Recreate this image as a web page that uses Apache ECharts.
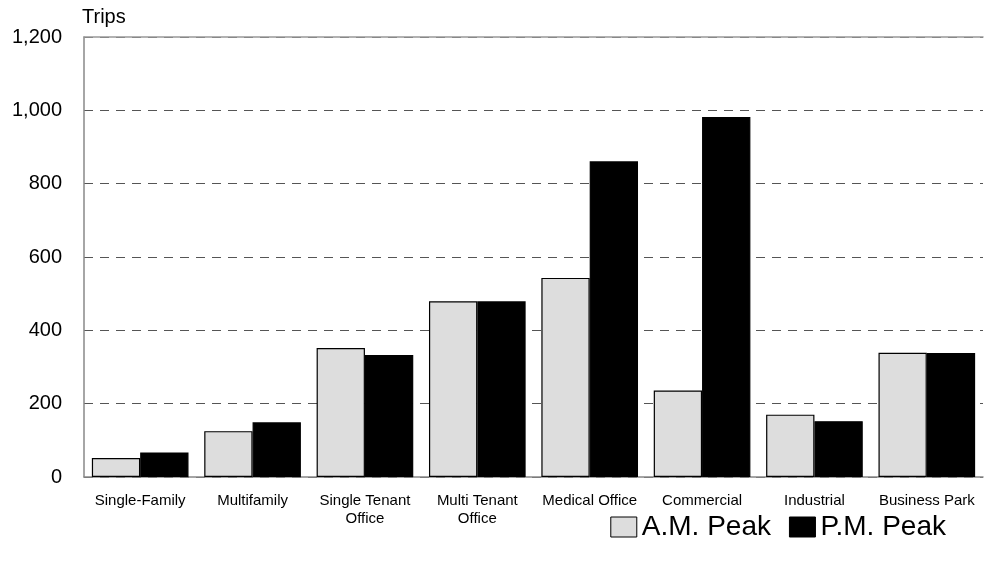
<!DOCTYPE html>
<html>
<head>
<meta charset="utf-8">
<script src="https://cdn.jsdelivr.net/npm/echarts@6/dist/echarts.min.js"></script>
<style>
  html, body { margin: 0; padding: 0; background: #fff; }
  #main { width: 984px; height: 561px; }
</style>
</head>
<body>
<div id="main"></div>
<script>
var categories = ['Single-Family', 'Multifamily', 'Single Tenant\nOffice', 'Multi Tenant\nOffice',
    'Medical Office', 'Commercial', 'Industrial', 'Business Park'];
var amPeak = [52, 125, 352, 479, 543, 236, 170, 339];
var pmPeak = [67, 149, 333, 479, 861, 982, 152, 338];
var yTicks = [0, 200, 400, 600, 800, 1000, 1200];

var font = 'Arial, "Liberation Sans", sans-serif';

var option = {
    animation: false,
    textStyle: { fontFamily: font },
    grid: {
        left: 84,
        right: 1,
        top: 37,
        bottom: 84
    },
    legend: {
        right: 33,
        bottom: 15,
        icon: 'rect',
        itemWidth: 26,
        itemHeight: 20,
        itemGap: 18,
        textStyle: { fontSize: 28, color: '#000', fontFamily: font },
        data: [
            { name: 'A.M. Peak', itemStyle: { color: '#dddddd', borderColor: '#000', borderWidth: 1 } },
            { name: 'P.M. Peak', itemStyle: { color: '#000', borderColor: '#000', borderWidth: 1 } }
        ]
    },
    xAxis: [
        {
            type: 'category',
            data: categories,
            axisLine: { lineStyle: { color: '#888', width: 1.5 } },
            axisTick: { show: false },
            axisLabel: { fontSize: 15, color: '#000', margin: 15, interval: 0, lineHeight: 18 }
        },
        {
            type: 'category',
            position: 'top',
            data: categories,
            axisLine: { lineStyle: { color: '#999', width: 1.5 } },
            axisTick: { show: false },
            axisLabel: { show: false }
        }
    ],
    yAxis: {
        type: 'value',
        min: 0,
        max: yTicks[yTicks.length - 1],
        interval: 200,
        name: 'Trips',
        nameLocation: 'end',
        nameGap: 10,
        nameTextStyle: { fontSize: 20, color: '#000', align: 'left', padding: [0, 0, 0, -2] },
        axisLine: { show: true, lineStyle: { color: '#888', width: 1.5 } },
        axisTick: { show: false },
        axisLabel: {
            fontSize: 20,
            color: '#000',
            margin: 22,
            formatter: function (v) { return v.toLocaleString('en-US'); }
        },
        splitLine: {
            show: true,
            lineStyle: { color: '#555', type: [9, 7], width: 1.2 }
        }
    },
    series: [
        {
            name: 'A.M. Peak',
            type: 'bar',
            data: amPeak,
            barGap: '0%',
            barCategoryGap: '14%',
            itemStyle: { color: '#dddddd', borderColor: '#000', borderWidth: 1.2 }
        },
        {
            name: 'P.M. Peak',
            type: 'bar',
            data: pmPeak,
            itemStyle: { color: '#000', borderColor: '#000', borderWidth: 1.2 }
        }
    ]
};

var myChart = echarts.init(document.getElementById('main'));
myChart.setOption(option);
</script>
</body>
</html>
